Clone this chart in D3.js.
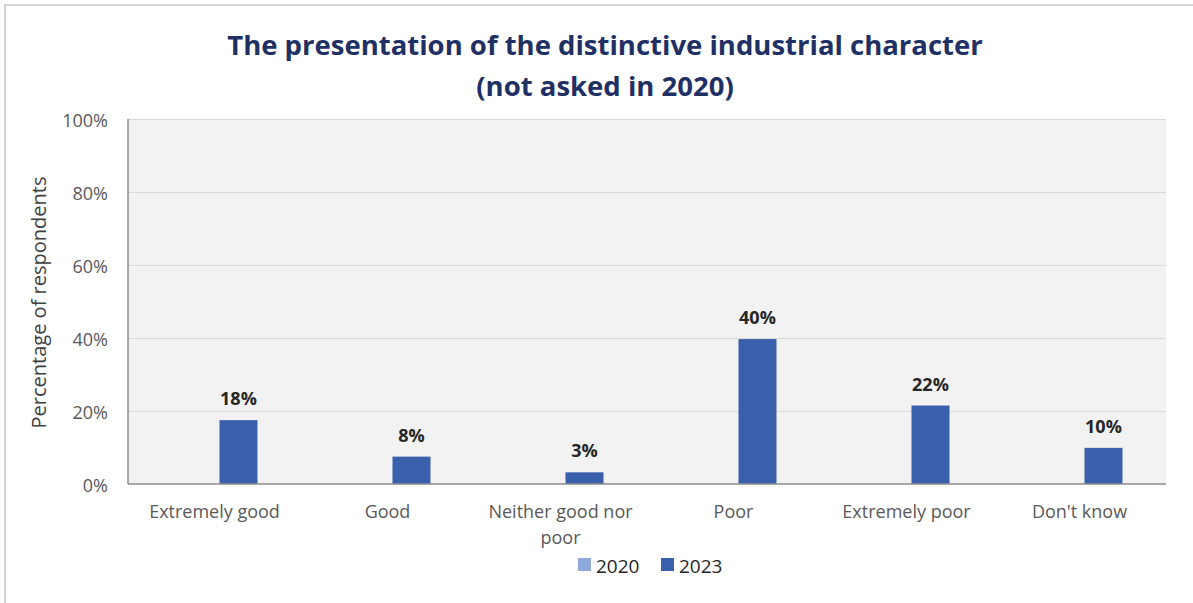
<!DOCTYPE html>
<html lang="en">
<head>
    <meta charset="UTF-8">
    <title>The presentation of the distinctive industrial character</title>
    <script src="https://d3js.org/d3.v7.min.js"></script>
    <style>
        body {
            margin: 0;
            padding: 0;
            background-color: #fff;
            font-family: "Open Sans", Arial, sans-serif;
        }
        svg text { font-family: "Open Sans", Arial, sans-serif; }
        .grid line { stroke: #d9d9d9; }
        .grid path { display: none; }
        .tick text { fill: #595959; }
    </style>
</head>
<body>
    <div id="chart"></div>
    <script>
        // data
        const categories = ["Extremely good", "Good", "Neither good nor poor", "Poor", "Extremely poor", "Don't know"];
        const seriesNames = ["2020", "2023"];
        const values2020 = [null, null, null, null, null, null]; // not asked in 2020
        const values2023 = [17.5, 7.5, 3.2, 39.7, 21.5, 9.9];
        const yTicks = [0, 20, 40, 60, 80, 100];
        const colors = { "2020": "#8fa9dc", "2023": "#3a5fab" };

        const W = 1193, H = 603;
        const margin = { top: 119, right: 27, bottom: 119, left: 128 };
        const width = W - margin.left - margin.right;
        const height = H - margin.top - margin.bottom;

        const svg = d3.select("#chart")
            .append("svg")
            .attr("width", W)
            .attr("height", H);

        // outer frame
        svg.append("rect")
            .attr("x", 5).attr("y", 5)
            .attr("width", W + 10).attr("height", H + 10)
            .attr("fill", "none")
            .attr("stroke", "#d4d4d4")
            .attr("stroke-width", 2);

        // title
        const title = svg.append("text")
            .attr("text-anchor", "middle")
            .attr("fill", "#1f3064")
            .style("font-size", "27.5px")
            .style("font-weight", "bold");
        title.append("tspan").attr("x", 605).attr("y", 55).text("The presentation of the distinctive industrial character");
        title.append("tspan").attr("x", 605).attr("y", 96).text("(not asked in 2020)");

        const g = svg.append("g")
            .attr("transform", `translate(${margin.left},${margin.top})`);

        g.append("rect")
            .attr("width", width)
            .attr("height", height)
            .attr("fill", "#f2f2f2");

        const x = d3.scaleBand()
            .domain(categories)
            .range([0, width])
            .paddingInner(0.503)
            .paddingOuter(0.2515);

        const xs = d3.scaleBand()
            .domain(seriesNames)
            .range([0, x.bandwidth()])
            .paddingInner(0.208);

        const y = d3.scaleLinear()
            .domain([0, 100])
            .range([height, 0]);

        // gridlines + y labels
        const yAxis = g.append("g")
            .attr("class", "grid")
            .call(d3.axisLeft(y).tickValues(yTicks).tickSize(-width).tickPadding(20).tickFormat(d => d + "%"));
        yAxis.attr("font-family", null);
        yAxis.selectAll(".tick text").style("font-size", "18px").attr("dy", "0.4em");
        yAxis.selectAll(".tick line").filter(d => d === 0).remove();

        // axis lines
        g.append("line")
            .attr("x1", 0).attr("x2", 0)
            .attr("y1", 0).attr("y2", height)
            .attr("stroke", "#8c8c8c").attr("stroke-width", 1.5);

        const table = categories.map((c, i) => ({
            category: c,
            series: [
                { name: "2020", value: values2020[i] },
                { name: "2023", value: values2023[i] }
            ]
        }));

        const groups = g.selectAll(".cat")
            .data(table)
            .join("g")
            .attr("class", "cat")
            .attr("transform", d => `translate(${x(d.category)},0)`);

        groups.selectAll("rect")
            .data(d => d.series.filter(s => s.value != null))
            .join("rect")
            .attr("x", d => xs(d.name))
            .attr("width", xs.bandwidth())
            .attr("y", d => y(d.value))
            .attr("height", d => height - y(d.value))
            .attr("fill", d => colors[d.name]);

        groups.selectAll(".label")
            .data(d => d.series.filter(s => s.value != null))
            .join("text")
            .attr("class", "label")
            .attr("x", d => xs(d.name) + xs.bandwidth() / 2)
            .attr("y", d => y(d.value) - 15)
            .attr("text-anchor", "middle")
            .attr("fill", "#262626")
            .style("font-size", "18px")
            .style("font-weight", "bold")
            .text(d => Math.round(d.value) + "%");

        g.append("line")
            .attr("x1", 0).attr("x2", width)
            .attr("y1", height).attr("y2", height)
            .attr("stroke", "#8c8c8c").attr("stroke-width", 1.5);

        // x axis labels
        const xAxis = g.append("g")
            .attr("transform", `translate(0,${height})`)
            .call(d3.axisBottom(x).tickSize(0).tickPadding(21));
        xAxis.attr("font-family", null);
        xAxis.select(".domain").remove();
        xAxis.selectAll(".tick text")
            .style("font-size", "18px")
            .call(wrap, 165);

        function wrap(texts, maxWidth) {
            texts.each(function () {
                const text = d3.select(this);
                const words = text.text().split(/\s+/);
                const yPos = text.attr("y");
                const dy = text.attr("dy");
                text.text(null);
                let line = [];
                let lineNo = 0;
                let tspan = text.append("tspan").attr("x", 0).attr("y", yPos).attr("dy", dy);
                words.forEach(w => {
                    line.push(w);
                    tspan.text(line.join(" "));
                    if (tspan.node().getComputedTextLength() > maxWidth && line.length > 1) {
                        line.pop();
                        tspan.text(line.join(" "));
                        line = [w];
                        lineNo++;
                        tspan = text.append("tspan").attr("x", 0).attr("y", yPos)
                            .attr("dy", (lineNo * 1.45 + parseFloat(dy)) + "em").text(w);
                    }
                });
            });
        }

        // y axis title
        svg.append("text")
            .attr("transform", `translate(46,${margin.top + height / 2 + 1}) rotate(-90)`)
            .attr("text-anchor", "middle")
            .attr("fill", "#404040")
            .style("font-size", "20px")
            .text("Percentage of respondents");

        // legend
        const legend = svg.append("g").attr("transform", "translate(578,558)");
        const items = legend.selectAll("g")
            .data(seriesNames)
            .join("g")
            .attr("transform", (d, i) => `translate(${i * 83},0)`);
        items.append("rect")
            .attr("width", 13).attr("height", 13)
            .attr("fill", d => colors[d]);
        items.append("text")
            .attr("x", 18).attr("y", 14.5)
            .attr("fill", "#262626")
            .style("font-size", "19px")
            .text(d => d);
    </script>
</body>
</html>
